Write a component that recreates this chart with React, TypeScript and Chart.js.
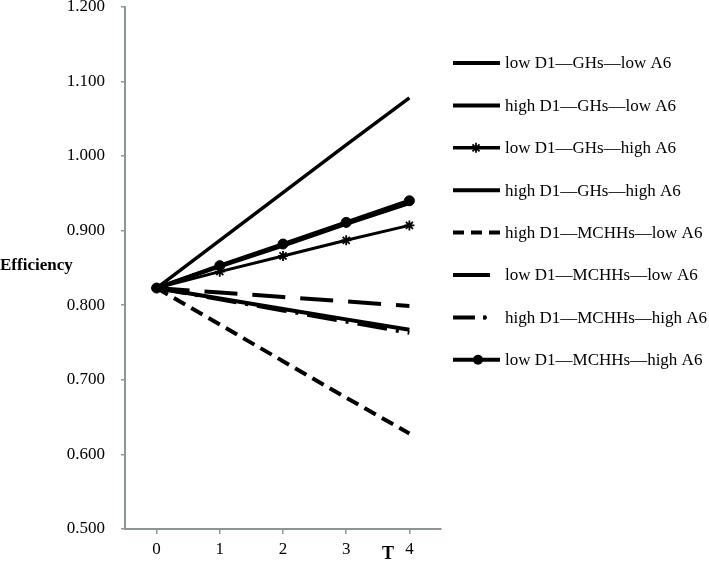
import React, { useEffect, useRef } from "react";
import { Chart, registerables } from "chart.js";

Chart.register(...registerables);

const categories = ["0", "1", "2", "3", "4"];
const seriesNames = [
  "low D1—GHs—low A6",
  "high D1—GHs—low A6",
  "low D1—GHs—high A6",
  "high D1—GHs—high A6",
  "high D1—MCHHs—low A6",
  "low D1—MCHHs—low A6",
  "high D1—MCHHs—high A6",
  "low D1—MCHHs—high A6",
];
const lowGHsLow = [0.823, 0.887, 0.951, 1.015, 1.078];
const highGHsLow = [0.823, 0.809, 0.795, 0.781, 0.767];
const lowGHsHigh = [0.823, 0.845, 0.866, 0.887, 0.907];
const highGHsHigh = [0.823, 0.852, 0.880, 0.909, 0.937];
const highMCHHsLow = [0.823, 0.774, 0.725, 0.676, 0.628];
const lowMCHHsLow = [0.823, 0.817, 0.811, 0.805, 0.799];
const highMCHHsHigh = [0.823, 0.808, 0.793, 0.778, 0.763];
const lowMCHHsHigh = [0.823, 0.853, 0.882, 0.911, 0.940];
const yTickMin = 0.5;
const yTickMax = 1.2;
const yTickStep = 0.1;

const FONT = "'Liberation Serif', 'Times New Roman', serif";
const AXIS = "#8a9898";

type Style = {
  width: number;
  dash: number[];
  point: string | false;
  legendDash: number[];
  legendLen: number;
  legendWidth: number;
};

const styles: Style[] = [
  { width: 3.5, dash: [], point: false, legendDash: [], legendLen: 47, legendWidth: 4 },
  { width: 4, dash: [], point: false, legendDash: [], legendLen: 47, legendWidth: 4 },
  { width: 3, dash: [], point: "star", legendDash: [], legendLen: 47, legendWidth: 3.5 },
  { width: 4, dash: [], point: false, legendDash: [], legendLen: 47, legendWidth: 4 },
  { width: 4, dash: [13, 7], point: false, legendDash: [11, 7], legendLen: 47, legendWidth: 4 },
  { width: 4, dash: [33, 15], point: false, legendDash: [], legendLen: 37, legendWidth: 4 },
  { width: 4, dash: [30, 9, 3, 9], point: false, legendDash: [22, 8, 3, 20], legendLen: 35, legendWidth: 4 },
  { width: 4, dash: [], point: "circle", legendDash: [], legendLen: 47, legendWidth: 4 },
];

const seriesData = [
  lowGHsLow,
  highGHsLow,
  lowGHsHigh,
  highGHsHigh,
  highMCHHsLow,
  lowMCHHsLow,
  highMCHHsHigh,
  lowMCHHsHigh,
];

const overlayPlugin = {
  id: "overlay",
  afterDraw(chart: any) {
    const ctx = chart.ctx as CanvasRenderingContext2D;
    ctx.save();
    ctx.fillStyle = "#000";
    ctx.font = `bold 17px ${FONT}`;
    ctx.textBaseline = "middle";
    ctx.textAlign = "left";
    ctx.fillText("Efficiency", 0, 266);
    ctx.font = `bold 18px ${FONT}`;
    ctx.textAlign = "center";
    ctx.fillText("T", 388, 554);

    const top = 63;
    const gap = 42.4;
    const x0 = 453;
    seriesNames.forEach((name, i) => {
      const st = styles[i];
      const y = top + i * gap;
      ctx.beginPath();
      ctx.setLineDash(st.legendDash);
      ctx.lineWidth = st.legendWidth;
      ctx.strokeStyle = "#000";
      ctx.lineCap = "butt";
      ctx.moveTo(x0, y);
      ctx.lineTo(x0 + st.legendLen, y);
      ctx.stroke();
      ctx.setLineDash([]);
      if (i === 6) {
        ctx.beginPath();
        ctx.arc(485, y, 2, 0, Math.PI * 2);
        ctx.fillStyle = "#000";
        ctx.fill();
      }
      if (st.point === "circle") {
        ctx.beginPath();
        ctx.arc(478, y, 5, 0, Math.PI * 2);
        ctx.fillStyle = "#000";
        ctx.fill();
      } else if (st.point === "star") {
        const r = 5;
        ctx.beginPath();
        ctx.lineWidth = 1.8;
        for (let k = 0; k < 4; k++) {
          const a = (k * Math.PI) / 4;
          ctx.moveTo(476 - r * Math.cos(a), y - r * Math.sin(a));
          ctx.lineTo(476 + r * Math.cos(a), y + r * Math.sin(a));
        }
        ctx.stroke();
      }
      ctx.fillStyle = "#000";
      ctx.font = `17px ${FONT}`;
      ctx.textAlign = "left";
      ctx.textBaseline = "middle";
      ctx.fillText(name, 505, y + 1);
    });
    ctx.restore();
  },
};

export default function App() {
  const ref = useRef<HTMLCanvasElement | null>(null);
  useEffect(() => {
    if (!ref.current) return;
    const chart = new Chart(ref.current, {
      type: "line",
      data: {
        labels: categories,
        datasets: seriesData.map((d, i) => ({
          label: seriesNames[i],
          data: d,
          borderColor: "#000",
          backgroundColor: "#000",
          borderWidth: styles[i].width,
          borderDash: styles[i].dash,
          borderCapStyle: "butt" as const,
          pointStyle: (styles[i].point || "circle") as any,
          pointRadius: styles[i].point ? 5 : 0,
          pointBorderWidth: styles[i].point === "star" ? 1.8 : 1,
          pointBackgroundColor: "#000",
          pointBorderColor: "#000",
          fill: false,
          tension: 0,
        })),
      },
      options: {
        responsive: false,
        animation: false,
        events: [],
        layout: { padding: { left: 0, top: 5, right: 268, bottom: 0 } },
        plugins: {
          legend: { display: false },
          tooltip: { enabled: false },
          title: { display: false },
        },
        scales: {
          x: {
            type: "category",
            offset: true,
            grid: {
              display: true,
              drawOnChartArea: false,
              drawTicks: true,
              tickLength: 5,
              color: AXIS,
              lineWidth: 1.5,
              offset: false,
            },
            border: { display: true, color: AXIS, width: 2 },
            ticks: {
              color: "#000",
              font: { family: FONT, size: 17 },
              padding: 5,
              maxRotation: 0,
            },
            afterFit: (s: any) => {
              s.height = 33;
              s.paddingLeft = 0;
              s.paddingRight = 0;
            },
          },
          y: {
            min: yTickMin,
            max: yTickMax,
            grid: {
              display: true,
              drawOnChartArea: false,
              drawTicks: true,
              tickLength: 4,
              color: AXIS,
              lineWidth: 1.5,
            },
            border: { display: true, color: AXIS, width: 2 },
            ticks: {
              stepSize: yTickStep,
              color: "#000",
              font: { family: FONT, size: 17 },
              padding: 16,
              callback: (v: any) => Number(v).toFixed(3),
            },
            afterFit: (s: any) => {
              s.width = 125;
              s.paddingTop = 0;
              s.paddingBottom = 0;
            },
          },
        },
      },
      plugins: [overlayPlugin],
    });
    return () => chart.destroy();
  }, []);
  return (
    <div style={{ position: "fixed", left: 0, top: 0, width: 709, height: 562, background: "#fff" }}>
      <canvas ref={ref} width={709} height={562} style={{ display: "block" }} />
    </div>
  );
}
